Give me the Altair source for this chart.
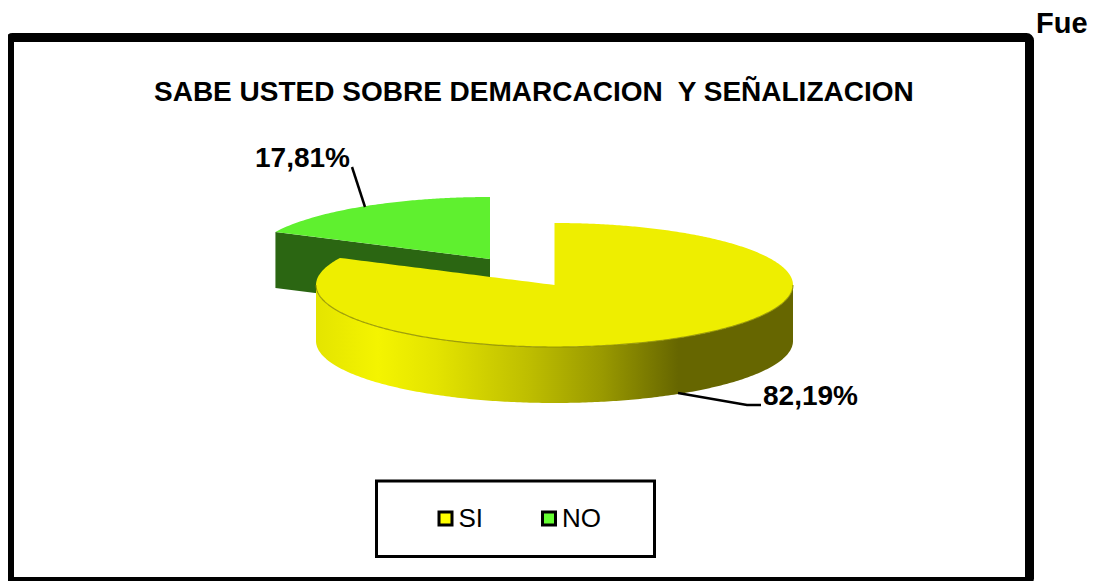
import math
import altair as alt
import pandas as pd

TITLE = "SABE USTED SOBRE DEMARCACION\u00a0 Y SEÑALIZACION"
CATEGORIES = ["SI", "NO"]
VALUES = [82.19, 17.81]
LABELS = ["82,19%", "17,81%"]
LEGEND_COLORS = ["#FFFF00", "#66FF33"]
FONT = "Liberation Sans"

# page-pixel geometry of the pseudo-3D pie
X0, X1, Y0, Y1 = 9.5, 1029.5, 37.5, 581.5
RX, RY, DEPTH = 238.5, 62.0, 56.0
SI_C = (554.5, 285.0)
NO_C = (490.0, 259.0)
end = math.radians(VALUES[1] * 3.6)  # counter-clockwise from 12 o'clock
ux, uy = -math.sin(end) * RX, -math.cos(end) * RY


def top_arc(c, x):
    return c[1] - RY * math.sqrt(max(0.0, 1 - ((x - c[0]) / RX) ** 2))


def bottom_arc(c, x):
    return c[1] + RY * math.sqrt(max(0.0, 1 - ((x - c[0]) / RX) ** 2))


def grid(a, b, n=240):
    # denser near the ellipse's vertical tangents
    c = (a + b) / 2
    r = (b - a) / 2
    return [c - r * math.cos(math.pi * i / n) for i in range(n + 1)]


si_left, si_right = SI_C[0] - RX, SI_C[0] + RX
si_end_x = SI_C[0] + ux

# yellow top face
rows = []
for x in [si_left + (si_end_x - si_left) * (1 - math.cos(math.pi / 2 * i / 40)) for i in range(41)]:
    rows.append((x, top_arc(SI_C, x), bottom_arc(SI_C, x)))
for i in range(1, 41):
    x = si_end_x + (SI_C[0] - si_end_x) * i / 40
    ray = SI_C[1] + uy * (SI_C[0] - x) / (SI_C[0] - si_end_x)
    rows.append((x, ray, bottom_arc(SI_C, x)))
for i in range(0, 161):
    x = SI_C[0] + RX * math.sin(math.pi / 2 * i / 160)
    rows.append((x, top_arc(SI_C, x), bottom_arc(SI_C, x)))
si_top = pd.DataFrame(rows, columns=["x", "y", "y2"])

# yellow front wall
si_wall = pd.DataFrame(
    [(x, bottom_arc(SI_C, x), bottom_arc(SI_C, x) + DEPTH) for x in grid(si_left, si_right)],
    columns=["x", "y", "y2"],
)

# green top face and inner wall
no_left = NO_C[0] + ux
no_rows = []
for i in range(0, 121):
    x = no_left + (NO_C[0] - no_left) * math.sin(math.pi / 2 * i / 120)
    ray = NO_C[1] + uy * (NO_C[0] - x) / (NO_C[0] - no_left)
    no_rows.append((x, top_arc(NO_C, x), ray))
no_top = pd.DataFrame(no_rows, columns=["x", "y", "y2"])
no_wall = pd.DataFrame(
    [(r[0], r[2], r[2] + DEPTH) for r in [no_rows[0], no_rows[-1]]], columns=["x", "y", "y2"]
)

X = alt.X("x:Q", scale=alt.Scale(domain=[X0, X1], nice=False, zero=False), axis=None)
Y = alt.Y("y:Q", scale=alt.Scale(domain=[Y1, Y0], nice=False, zero=False), axis=None)

gradient = alt.Gradient(
    gradient="linear", x1=0, x2=1, y1=0, y2=0,
    stops=[
        alt.GradientStop(offset=0.0, color="#E4E400"),
        alt.GradientStop(offset=0.13, color="#F4F400"),
        alt.GradientStop(offset=0.25, color="#E4E400"),
        alt.GradientStop(offset=0.45, color="#BDBD00"),
        alt.GradientStop(offset=0.60, color="#999900"),
        alt.GradientStop(offset=0.76, color="#666600"),
        alt.GradientStop(offset=1.0, color="#666600"),
    ],
)

layers = [
    alt.Chart(no_wall).mark_area(color="#2B6612").encode(X, Y, y2="y2:Q"),
    alt.Chart(no_top).mark_area(color="#5FF02F").encode(X, Y, y2="y2:Q"),
    alt.Chart(si_wall).mark_area(color=gradient).encode(X, Y, y2="y2:Q"),
    alt.Chart(si_top).mark_area(color="#EEEE00").encode(X, Y, y2="y2:Q"),
    alt.Chart(si_wall).mark_line(color="#8A8A00", strokeWidth=1.2, opacity=0.8).encode(X, Y),
]

# leader lines
leaders = pd.DataFrame({
    "x": [678, 747, 761, 352, 365],
    "y": [393, 405, 405, 167, 207],
    "g": ["SI", "SI", "SI", "NO", "NO"],
})
layers.append(alt.Chart(leaders).mark_line(color="black", strokeWidth=2.5).encode(X, Y, detail="g:N"))

# data labels and the stray text
texts = pd.DataFrame({"x": [763, 255], "y": [405, 167], "t": LABELS})
layers.append(
    alt.Chart(texts).mark_text(font=FONT, fontWeight="bold", fontSize=28, align="left", baseline="alphabetic", color="black")
    .encode(X, Y, text="t:N")
)
layers.append(
    alt.Chart(pd.DataFrame({"x": [1036], "y": [33], "t": ["Fue"]}))
    .mark_text(font=FONT, fontWeight="bold", fontSize=29, align="left", baseline="alphabetic", color="black")
    .encode(X, Y, text="t:N")
)

# legend box and legend
layers.append(
    alt.Chart(pd.DataFrame({"x": [376.5], "x2": [654.5], "y": [481], "y2": [556.5]}))
    .mark_rect(fill="white", stroke="black", strokeWidth=3)
    .encode(X, Y, x2="x2:Q", y2="y2:Q")
)
layers.append(
    alt.Chart(pd.DataFrame({"x": [500, 500], "y": [520, 520], "c": CATEGORIES}))
    .mark_square(size=0, opacity=1)
    .encode(
        X, Y,
        color=alt.Color(
            "c:N",
            scale=alt.Scale(domain=CATEGORIES, range=LEGEND_COLORS),
            legend=alt.Legend(
                title=None, orient="none", legendX=423, legendY=468, direction="horizontal", columns=2,
                symbolType="square", symbolSize=169, symbolStrokeColor="black", symbolStrokeWidth=3,
                symbolOpacity=1,
                labelFont=FONT, labelFontSize=26, labelColor="black", labelOffset=0, columnPadding=52.5,
            ),
        ),
    )
)

chart = (
    alt.layer(*layers)
    .properties(
        width=1020,
        height=544,
        padding={"left": 1.5, "top": 29.5, "right": 61.5, "bottom": 6},
        autosize=alt.AutoSizeParams(type="none"),
        title=alt.TitleParams(
            TITLE, anchor="start", align="left", font=FONT, fontWeight="bold", fontSize=28,
            color="black", offset=0, dx=144.5, dy=96.5,
        ),
    )
    .configure_view(stroke="black", strokeWidth=9, cornerRadius=3)
)

chart.save("out.html", embed_options={"renderer": "svg", "actions": False})
